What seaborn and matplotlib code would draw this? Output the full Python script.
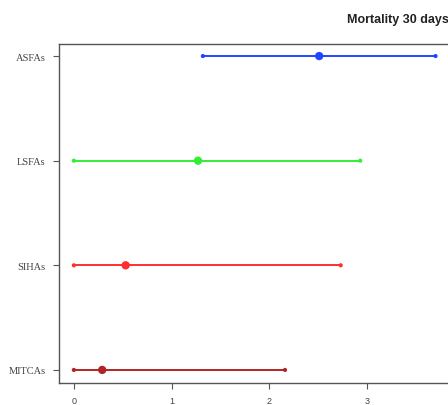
import pandas as pd
import matplotlib
matplotlib.use("Agg")
import matplotlib.pyplot as plt
import seaborn as sns

# values
groups = ["ASFAs", "LSFAs", "SIHAs", "MITCAs"]
estimate = [2.51, 1.27, 0.53, 0.29]
lower = [1.32, 0.00, 0.00, 0.00]
upper = [3.70, 2.93, 2.73, 2.16]
colors = ["#1f45ff", "#33ee33", "#ff2f2f", "#b22424"]
x_ticks = [0, 1, 2, 3]

df = pd.DataFrame({"group": groups, "est": estimate, "lo": lower, "hi": upper})
df["pos"] = range(len(groups))

sns.set_style("white")
fig = plt.figure(figsize=(4.48, 4.06), dpi=100)
# axes runs past the right edge, the reference image is cropped there
ax = fig.add_axes([59 / 448, 22.5 / 406, 391 / 448, 339 / 406])

palette = dict(zip(groups, colors))
for _, row in df.iterrows():
    ax.hlines(row["pos"], row["lo"], row["hi"], color=palette[row["group"]], lw=1.4, zorder=2)

ends = pd.concat([
    df[["group", "pos"]].assign(x=df["lo"]),
    df[["group", "pos"]].assign(x=df["hi"]),
])
sns.scatterplot(data=ends, x="x", y="pos", hue="group", palette=palette,
                s=9, linewidth=0, legend=False, ax=ax, zorder=3)
sns.scatterplot(data=df, x="est", y="pos", hue="group", palette=palette,
                marker="o", s=36, linewidth=0, legend=False, ax=ax, zorder=4)

ax.set_xlim(-0.152, 3.848)
ax.set_ylim(3.12, -0.12)
ax.set_yticks(df["pos"])
ax.set_yticklabels(groups, family="Liberation Serif", fontsize=7.5, color="#444444")
ax.set_xticks(x_ticks)
ax.set_xticklabels([str(t) for t in x_ticks], family="Liberation Sans", fontsize=6.5, color="#444444")
ax.tick_params(axis="both", length=4.5, width=0.8, color="#555555", pad=5, left=True, bottom=True)
ax.set_xlabel("")
ax.set_ylabel("")
for sp in ax.spines.values():
    sp.set_color("#555555")
    sp.set_linewidth(1.0)

fig.text(347 / 448, 1 - 20 / 406, "Mortality 30 days", ha="left", va="center",
         fontsize=9, fontweight="bold", family="Liberation Sans", color="#222222")

fig.savefig("out.png", dpi=100)
